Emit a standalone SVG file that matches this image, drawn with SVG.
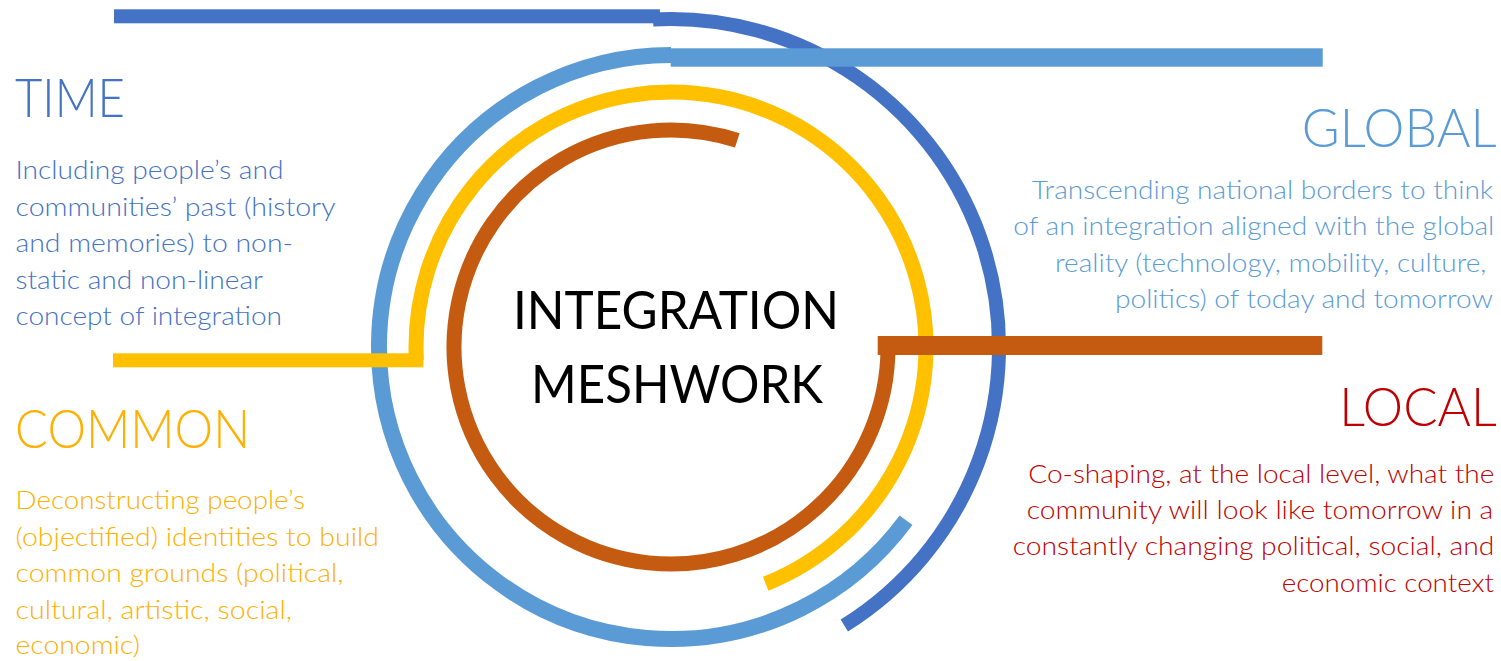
<svg xmlns="http://www.w3.org/2000/svg" width="1501" height="661" viewBox="0 0 1501 661">
<style>
.arc{fill:none;stroke-linecap:butt}
.db{stroke:#4472C4}.lb{stroke:#5B9BD5}.ye{stroke:#FFC000}.br{stroke:#C55A11}
.head{font-family:Lato,"Liberation Sans",sans-serif;font-weight:300;font-size:53px}
.body{font-family:Lato,"Liberation Sans",sans-serif;font-weight:300;font-size:25.5px}
.center{font-family:Lato,"Liberation Sans",sans-serif;font-weight:400;font-size:53px;fill:#000}
.time{fill:#4472C4}.global{fill:#5B9BD5}.common{fill:#FFB000}.local{fill:#C00000}
</style>
<rect width="1501" height="661" fill="#fff"/>
<g id="connectors">
  <path class="arc db" stroke-width="14" d="M 653 19.5 A 328 328 0 0 1 844.3 625.5"/>
  <path class="arc lb" stroke-width="16" d="M 671 55 A 292 292 0 1 0 906 520.3"/>
  <path class="arc ye" stroke-width="15" d="M 416.35 360.3 A 255 255 0 1 1 765.7 583.8"/>
  <path class="arc br" stroke-width="15" d="M 737.3 140.4 A 217 217 0 1 0 888 347"/>
  <rect x="114" y="9.3" width="546" height="14" fill="#4472C4"/>
  <rect x="670.7" y="48.3" width="652" height="18.4" fill="#5B9BD5"/>
  <rect x="113" y="353.3" width="310.3" height="14" fill="#FFC000"/>
  <rect x="877.7" y="336" width="444.6" height="19" fill="#C55A11"/>
</g>
<g id="center-node">
  <text class="center" x="513" y="329" textLength="326" lengthAdjust="spacingAndGlyphs">INTEGRATION</text>
  <text class="center" x="531" y="403" textLength="292" lengthAdjust="spacingAndGlyphs">MESHWORK</text>
</g>
<g id="time-node" class="time">
  <text class="head time" x="15" y="116.7" textLength="110" lengthAdjust="spacingAndGlyphs">TIME</text>
  <text class="body time" x="15.5" y="178.7" textLength="268" lengthAdjust="spacingAndGlyphs">Including people’s and</text>
  <text class="body time" x="15.5" y="215.5" textLength="320" lengthAdjust="spacingAndGlyphs">communities’ past (history</text>
  <text class="body time" x="15.5" y="252.2" textLength="277.5" lengthAdjust="spacingAndGlyphs">and memories) to non-</text>
  <text class="body time" x="15.5" y="289" textLength="247.5" lengthAdjust="spacingAndGlyphs">static and non-linear</text>
  <text class="body time" x="15.5" y="325.3" textLength="266.5" lengthAdjust="spacingAndGlyphs">concept of integration</text>
</g>
<g id="common-node">
  <text class="head common" x="15" y="448.3" textLength="235" lengthAdjust="spacingAndGlyphs">COMMON</text>
  <text class="body common" x="15.5" y="509" textLength="289.5" lengthAdjust="spacingAndGlyphs">Deconstructing people’s</text>
  <text class="body common" x="15.5" y="545.7" textLength="363.5" lengthAdjust="spacingAndGlyphs">(objectified) identities to build</text>
  <text class="body common" x="15.5" y="582.3" textLength="328" lengthAdjust="spacingAndGlyphs">common grounds (political,</text>
  <text class="body common" x="15.5" y="619.3" textLength="276.5" lengthAdjust="spacingAndGlyphs">cultural, artistic, social,</text>
  <text class="body common" x="15.5" y="654" textLength="124.5" lengthAdjust="spacingAndGlyphs">economic)</text>
</g>
<g id="global-node">
  <text class="head global" x="1301.7" y="146.7" textLength="195" lengthAdjust="spacingAndGlyphs">GLOBAL</text>
  <text class="body global" x="1031.7" y="198.5" textLength="461.5" lengthAdjust="spacingAndGlyphs">Transcending national borders to think</text>
  <text class="body global" x="1013.3" y="235.2" textLength="481" lengthAdjust="spacingAndGlyphs">of an integration aligned with the global</text>
  <text class="body global" x="1055" y="271.8" textLength="431.5" lengthAdjust="spacingAndGlyphs">reality (technology, mobility, culture,</text>
  <text class="body global" x="1115" y="308.4" textLength="378" lengthAdjust="spacingAndGlyphs">politics) of today and tomorrow</text>
</g>
<g id="local-node">
  <text class="head local" x="1339.3" y="425.7" textLength="157.4" lengthAdjust="spacingAndGlyphs">LOCAL</text>
  <text class="body local" x="1028.3" y="482.7" textLength="466" lengthAdjust="spacingAndGlyphs">Co-shaping, at the local level, what the</text>
  <text class="body local" x="1026.7" y="518.8" textLength="466.6" lengthAdjust="spacingAndGlyphs">community will look like tomorrow in a</text>
  <text class="body local" x="1012.7" y="555.2" textLength="481.6" lengthAdjust="spacingAndGlyphs">constantly changing political, social, and</text>
  <text class="body local" x="1281.7" y="591.7" textLength="212.3" lengthAdjust="spacingAndGlyphs">economic context</text>
</g>
</svg>
